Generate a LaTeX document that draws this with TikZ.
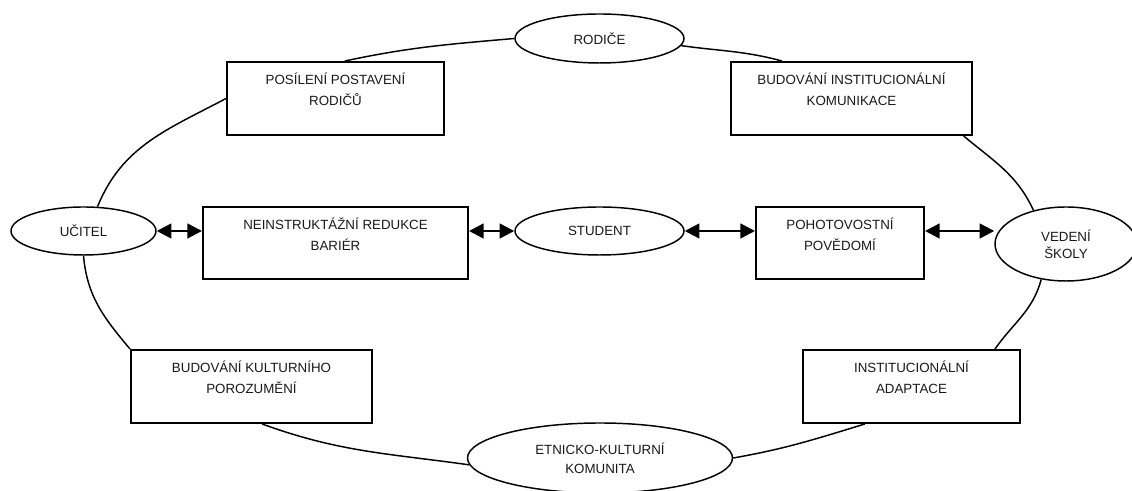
\documentclass[tikz,border=0pt]{standalone}
\usepackage{fontspec}
\setmainfont{Liberation Sans}
\usetikzlibrary{shapes.geometric, arrows.meta}
\newcommand{\unitpx}{0.75pt}
\newcommand{\labelfont}{\fontsize{10}{15.75}\selectfont}

\begin{document}
\begin{tikzpicture}[x=\unitpx, y=\unitpx]
  \tikzset{party/.style={draw, ellipse, line width=1.1pt, inner sep=0pt, align=center, font=\labelfont, text=black!90}}
  \tikzset{activity/.style={draw, line width=1.5pt, inner sep=0pt, minimum height=73*\unitpx}}
  \tikzset{activitytext/.style={align=center, anchor=north, inner sep=0pt, label distance=-9pt, font=\labelfont, text=black!90}}
  \tikzset{link/.style={line width=1.1pt}}
  \tikzset{mutual/.style={line width=1.9pt, {Triangle[length=11pt, width=11pt]}-{Triangle[length=11pt, width=11pt]}}}
  \useasboundingbox (0,0) rectangle (1132,491);
  % actors
  \node[party, minimum width=169*\unitpx, minimum height=49*\unitpx] (rodice) at (599.5,452.5) {RODIČE};
  \node[party, minimum width=145*\unitpx, minimum height=48*\unitpx] (ucitel) at (83.5,260) {UČITEL};
  \node[party, minimum width=169*\unitpx, minimum height=48*\unitpx] (student) at (599.5,260) {STUDENT};
  \node[party, minimum width=142*\unitpx, minimum height=74*\unitpx] (vedeni) at (1066,247) {VEDENÍ\\[-3.2pt]ŠKOLY};
  \node[party, minimum width=265*\unitpx, minimum height=70*\unitpx, text depth=-5pt] (etnicko) at (600,33) {ETNICKO-KULTURNÍ\\[-1.5pt]KOMUNITA};
  % activities
  \node[activity, minimum width=217*\unitpx, label={[activitytext]above:POSÍLENÍ POSTAVENÍ\\RODIČŮ}] (posileni) at (335.5,392.5) {};
  \node[activity, minimum width=241*\unitpx, label={[activitytext]above:BUDOVÁNÍ INSTITUCIONÁLNÍ\\KOMUNIKACE}] (budinst) at (851.5,392.5) {};
  \node[activity, minimum width=265*\unitpx, minimum height=72*\unitpx, label={[activitytext]above:NEINSTRUKTÁŽNÍ REDUKCE\\BARIÉR}] (neinstr) at (335.5,248) {};
  \node[activity, minimum width=168*\unitpx, minimum height=72*\unitpx, label={[activitytext]above:POHOTOVOSTNÍ\\POVĚDOMÍ}] (pohot) at (840,248) {};
  \node[activity, minimum width=241*\unitpx, label={[activitytext]above:BUDOVÁNÍ KULTURNÍHO\\POROZUMĚNÍ}] (budkult) at (251.5,104.5) {};
  \node[activity, minimum width=217*\unitpx, label={[activitytext]above:INSTITUCIONÁLNÍ\\ADAPTACE}] (instad) at (911.5,104.5) {};
  % middle row
  \draw (ucitel.east) edge[mutual] (neinstr.west |- ucitel.east);
  \draw (neinstr.east |- student.west) edge[mutual] (student.west);
  \draw (student.east) edge[mutual] (pohot.west |- student.east);
  \draw (pohot.east |- student.east) edge[mutual] (vedeni.west |- student.east);
  % outer ring
  \draw[link] (ucitel.60) to[out=68, in=208] (posileni.west);
  \draw[link] ([xshift=7pt]posileni.north) to[out=12, in=185] (rodice.west);
  \draw[link] (rodice.355) to[out=-8, in=165] ([xshift=39pt]budinst.north west);
  \draw[link] ([xshift=-7pt]budinst.south east) to[out=-40, in=115] (vedeni.134);
  \draw[link] (vedeni.235) to[out=-105, in=55] ([xshift=-19.5pt]instad.north east);
  \draw[link] ([xshift=-35pt]instad.south) to[out=197, in=10] (etnicko.east);
  \draw[link] (etnicko.183) to[out=172, in=-20] ([xshift=8pt]budkult.south);
  \draw[link] (budkult.north west) to[out=130, in=-85] (ucitel.south);
\end{tikzpicture}
\end{document}
